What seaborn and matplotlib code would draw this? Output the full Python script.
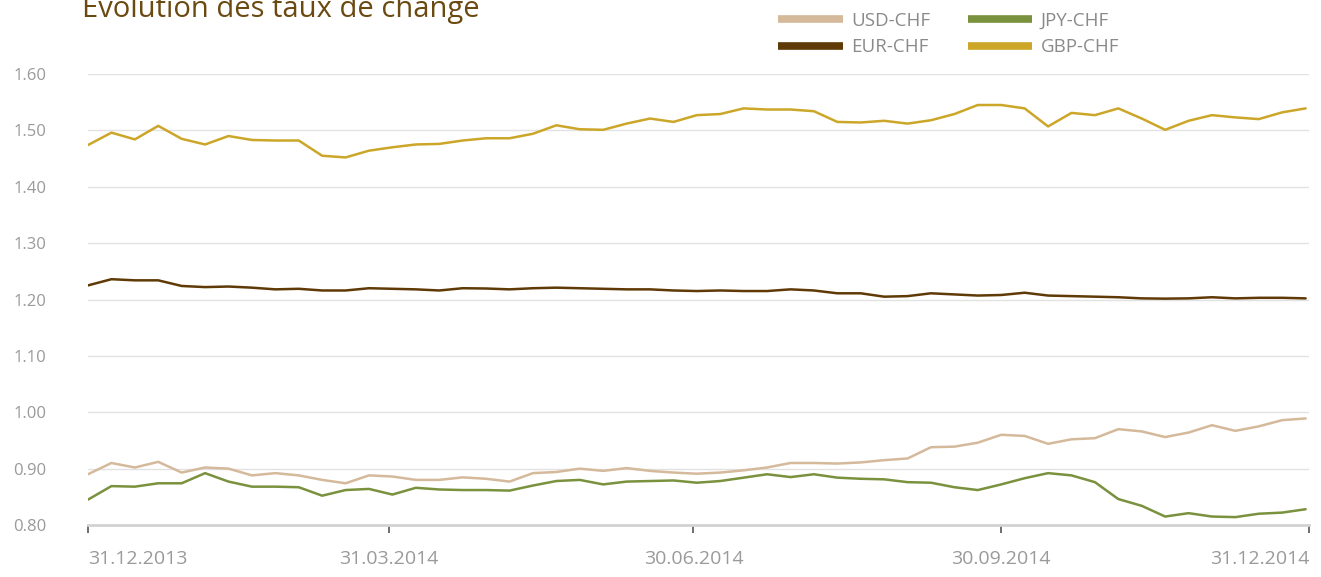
import pandas as pd
import numpy as np
import matplotlib
matplotlib.use("Agg")
import matplotlib.pyplot as plt
import matplotlib.dates as mdates
from matplotlib.lines import Line2D
import seaborn as sns

sns.set_theme(style="white")
plt.rcParams['font.family'] = ['Open Sans', 'DejaVu Sans']

# weekly fixings, 31.12.2013 - 30.12.2014
dates = pd.date_range("2013-12-31", periods=53, freq="7D")

usd_chf = [0.890, 0.910, 0.902, 0.912, 0.893, 0.902, 0.900, 0.888, 0.892, 0.888,
           0.880, 0.874, 0.888, 0.886, 0.880, 0.880, 0.8845, 0.882, 0.877, 0.892,
           0.894, 0.900, 0.896, 0.901, 0.896, 0.893, 0.891, 0.893, 0.897, 0.902,
           0.910, 0.910, 0.909, 0.911, 0.915, 0.918, 0.938, 0.939, 0.946, 0.960,
           0.958, 0.944, 0.952, 0.954, 0.970, 0.966, 0.956, 0.964, 0.977, 0.967,
           0.975, 0.986, 0.989]
eur_chf = [1.225, 1.236, 1.234, 1.234, 1.224, 1.222, 1.223, 1.221, 1.218, 1.219,
           1.216, 1.216, 1.220, 1.219, 1.218, 1.216, 1.220, 1.2195, 1.218, 1.220,
           1.221, 1.220, 1.219, 1.218, 1.218, 1.216, 1.215, 1.216, 1.215, 1.215,
           1.218, 1.216, 1.211, 1.211, 1.205, 1.206, 1.211, 1.209, 1.207, 1.208,
           1.212, 1.207, 1.206, 1.205, 1.204, 1.202, 1.2015, 1.202, 1.204, 1.202,
           1.203, 1.203, 1.202]
jpy_chf = [0.845, 0.869, 0.868, 0.874, 0.874, 0.892, 0.877, 0.868, 0.868, 0.867,
           0.852, 0.862, 0.864, 0.854, 0.866, 0.863, 0.862, 0.862, 0.861, 0.870,
           0.878, 0.880, 0.872, 0.877, 0.878, 0.879, 0.875, 0.878, 0.884, 0.890,
           0.885, 0.890, 0.884, 0.882, 0.881, 0.876, 0.875, 0.867, 0.862, 0.872,
           0.883, 0.892, 0.888, 0.876, 0.846, 0.834, 0.815, 0.821, 0.815, 0.814,
           0.820, 0.822, 0.828]
gbp_chf = [1.474, 1.496, 1.484, 1.508, 1.485, 1.475, 1.490, 1.483, 1.482, 1.482,
           1.455, 1.452, 1.464, 1.470, 1.475, 1.476, 1.482, 1.486, 1.486, 1.494,
           1.509, 1.502, 1.501, 1.512, 1.521, 1.515, 1.527, 1.529, 1.539, 1.537,
           1.537, 1.534, 1.515, 1.514, 1.517, 1.512, 1.518, 1.529, 1.545, 1.545,
           1.539, 1.507, 1.531, 1.527, 1.539, 1.521, 1.501, 1.517, 1.527, 1.523,
           1.520, 1.532, 1.539]

pairs = ["USD-CHF", "EUR-CHF", "JPY-CHF", "GBP-CHF"]
colors = {"USD-CHF": "#d4b99b", "EUR-CHF": "#603a06",
          "JPY-CHF": "#7a913e", "GBP-CHF": "#cca628"}
tick_dates = ["2013-12-31", "2014-03-31", "2014-06-30", "2014-09-30", "2014-12-31"]

df = pd.DataFrame({"date": dates, "USD-CHF": usd_chf, "EUR-CHF": eur_chf,
                   "JPY-CHF": jpy_chf, "GBP-CHF": gbp_chf})
df = df.melt(id_vars="date", var_name="pair", value_name="rate")

fig = plt.figure(figsize=(13.21, 5.77), dpi=100)
ax = fig.add_axes([88 / 1321, 1 - 525 / 577, (1309 - 88) / 1321, (525 - 74) / 577])

sns.lineplot(data=df, x="date", y="rate", hue="pair", hue_order=pairs,
             palette=colors, linewidth=1.8, legend=False, ax=ax)

ax.set_xlim(pd.Timestamp(tick_dates[0]), pd.Timestamp(tick_dates[-1]))
ax.set_ylim(0.80, 1.60)
ax.set_yticks(np.round(np.arange(0.80, 1.601, 0.10), 2))
ax.yaxis.set_major_formatter(plt.FuncFormatter(lambda v, p: f"{v:.2f}"))
ax.set_xticks([pd.Timestamp(d) for d in tick_dates])
ax.xaxis.set_major_formatter(mdates.DateFormatter("%d.%m.%Y"))
ax.set_xlabel("")
ax.set_ylabel("")

ax.yaxis.grid(True, color="#e2e2e2", linewidth=1)
ax.set_axisbelow(True)
for s in ["top", "right", "left"]:
    ax.spines[s].set_visible(False)
ax.spines["bottom"].set_color("#d2d2d2")
ax.spines["bottom"].set_linewidth(2)

ax.tick_params(axis="x", bottom=True, direction="out", length=6, width=1.2,
               color="#555555", pad=12, labelcolor="#9a9a9a", labelsize=14)
ax.tick_params(axis="y", length=0, pad=30, labelcolor="#9a9a9a", labelsize=12)
xt = ax.get_xticklabels()
xt[0].set_ha("left")
xt[-1].set_ha("right")

fig.text(82 / 1321, 1 - 17 / 577, "Evolution des taux de change", va="baseline",
         fontsize=21, color="#6b4a12")

handles = [Line2D([0], [0], color=colors[p], lw=5.5, solid_capstyle="butt") for p in pairs]
fig.legend(handles, pairs, ncol=2, loc="upper left",
           bbox_to_anchor=(778 / 1321, 1 - 12 / 577), frameon=False,
           fontsize=13.5, labelcolor="#8a8a8a", handlelength=3.45,
           handletextpad=0.45, columnspacing=2.0, labelspacing=0.45,
           borderpad=0, borderaxespad=0)

fig.savefig("out.png", dpi=100)
